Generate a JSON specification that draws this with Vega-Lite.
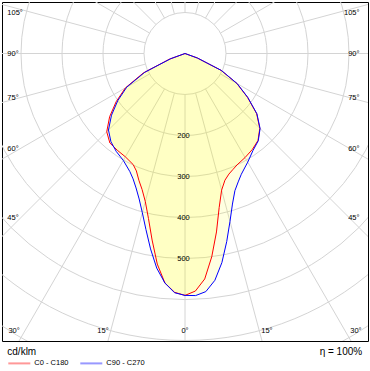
{
  "$schema": "https://vega.github.io/schema/vega-lite/v6.json",
  "width": 366,
  "height": 339,
  "autosize": {"type": "none"},
  "padding": {"left": 2, "top": 2, "right": 2, "bottom": 30},
  "background": "#ffffff",
  "config": {
    "view": {"stroke": "#000000", "strokeWidth": 1},
    "font": "Liberation Sans",
    "text": {"font": "Liberation Sans", "color": "#000000"}
  },
  "datasets": {
    "rings": [{"r": 100}, {"r": 200}, {"r": 300}, {"r": 400}, {"r": 500}, {"r": 600}, {"r": 700}, {"r": 800}, {"r": 900}],
    "spokes": [{"g": 0}, {"g": 15}, {"g": 30}, {"g": 45}, {"g": 60}, {"g": 75}, {"g": 90}, {"g": 105}, {"g": 120}, {"g": 135}, {"g": 150}, {"g": 165}, {"g": 180}, {"g": 195}, {"g": 210}, {"g": 225}, {"g": 240}, {"g": 255}, {"g": 270}, {"g": 285}, {"g": 300}, {"g": 315}, {"g": 330}, {"g": 345}],
    "curves": [
      {"p": "C0 - C180", "g": -75, "I": 0}, {"p": "C0 - C180", "g": -70, "I": 40}, {"p": "C0 - C180", "g": -65, "I": 112}, {"p": "C0 - C180", "g": -60, "I": 168}, {"p": "C0 - C180", "g": -55, "I": 205}, {"p": "C0 - C180", "g": -50, "I": 240}, {"p": "C0 - C180", "g": -45, "I": 270}, {"p": "C0 - C180", "g": -40, "I": 285}, {"p": "C0 - C180", "g": -35, "I": 288}, {"p": "C0 - C180", "g": -30, "I": 291}, {"p": "C0 - C180", "g": -25, "I": 299}, {"p": "C0 - C180", "g": -22.5, "I": 310}, {"p": "C0 - C180", "g": -20, "I": 329}, {"p": "C0 - C180", "g": -17.5, "I": 348}, {"p": "C0 - C180", "g": -15, "I": 374}, {"p": "C0 - C180", "g": -12.5, "I": 412}, {"p": "C0 - C180", "g": -10, "I": 462}, {"p": "C0 - C180", "g": -7.5, "I": 518}, {"p": "C0 - C180", "g": -5, "I": 562}, {"p": "C0 - C180", "g": -2.5, "I": 583},
      {"p": "C0 - C180", "g": 0, "I": 590},
      {"p": "C0 - C180", "g": 2.5, "I": 580}, {"p": "C0 - C180", "g": 5, "I": 552}, {"p": "C0 - C180", "g": 7.5, "I": 500}, {"p": "C0 - C180", "g": 10, "I": 442}, {"p": "C0 - C180", "g": 12.5, "I": 385}, {"p": "C0 - C180", "g": 15, "I": 345}, {"p": "C0 - C180", "g": 17.5, "I": 324}, {"p": "C0 - C180", "g": 20, "I": 313}, {"p": "C0 - C180", "g": 22.5, "I": 306}, {"p": "C0 - C180", "g": 25, "I": 300}, {"p": "C0 - C180", "g": 30, "I": 293}, {"p": "C0 - C180", "g": 35, "I": 286}, {"p": "C0 - C180", "g": 40, "I": 277}, {"p": "C0 - C180", "g": 45, "I": 258}, {"p": "C0 - C180", "g": 50, "I": 228}, {"p": "C0 - C180", "g": 55, "I": 186}, {"p": "C0 - C180", "g": 60, "I": 146}, {"p": "C0 - C180", "g": 65, "I": 97}, {"p": "C0 - C180", "g": 70, "I": 32}, {"p": "C0 - C180", "g": 75, "I": 0},
      {"p": "C90 - C270", "g": -75, "I": 0}, {"p": "C90 - C270", "g": -70, "I": 37}, {"p": "C90 - C270", "g": -65, "I": 108}, {"p": "C90 - C270", "g": -60, "I": 164}, {"p": "C90 - C270", "g": -55, "I": 200}, {"p": "C90 - C270", "g": -50, "I": 234}, {"p": "C90 - C270", "g": -45, "I": 264}, {"p": "C90 - C270", "g": -40, "I": 281}, {"p": "C90 - C270", "g": -35, "I": 292}, {"p": "C90 - C270", "g": -30, "I": 301}, {"p": "C90 - C270", "g": -25, "I": 318}, {"p": "C90 - C270", "g": -22.5, "I": 331}, {"p": "C90 - C270", "g": -20, "I": 349}, {"p": "C90 - C270", "g": -17.5, "I": 372}, {"p": "C90 - C270", "g": -15, "I": 402}, {"p": "C90 - C270", "g": -12.5, "I": 440}, {"p": "C90 - C270", "g": -10, "I": 484}, {"p": "C90 - C270", "g": -7.5, "I": 528}, {"p": "C90 - C270", "g": -5, "I": 562}, {"p": "C90 - C270", "g": -2.5, "I": 584},
      {"p": "C90 - C270", "g": 0, "I": 590},
      {"p": "C90 - C270", "g": 2.5, "I": 591}, {"p": "C90 - C270", "g": 5, "I": 583}, {"p": "C90 - C270", "g": 7.5, "I": 558}, {"p": "C90 - C270", "g": 10, "I": 518}, {"p": "C90 - C270", "g": 12.5, "I": 470}, {"p": "C90 - C270", "g": 15, "I": 424}, {"p": "C90 - C270", "g": 17.5, "I": 385}, {"p": "C90 - C270", "g": 20, "I": 356}, {"p": "C90 - C270", "g": 22.5, "I": 339}, {"p": "C90 - C270", "g": 25, "I": 325}, {"p": "C90 - C270", "g": 30, "I": 306}, {"p": "C90 - C270", "g": 35, "I": 289}, {"p": "C90 - C270", "g": 40, "I": 278}, {"p": "C90 - C270", "g": 45, "I": 259}, {"p": "C90 - C270", "g": 50, "I": 229}, {"p": "C90 - C270", "g": 55, "I": 187}, {"p": "C90 - C270", "g": 60, "I": 147}, {"p": "C90 - C270", "g": 65, "I": 98}, {"p": "C90 - C270", "g": 70, "I": 32}, {"p": "C90 - C270", "g": 75, "I": 0}
    ],
    "intensityLabels": [{"v": 200}, {"v": 300}, {"v": 400}, {"v": 500}],
    "sideLabels": [{"g": 45}, {"g": 60}, {"g": 75}, {"g": 90}, {"g": 105}],
    "bottomLabels": [{"g": -30}, {"g": -15}, {"g": 0}, {"g": 15}, {"g": 30}]
  },
  "encoding": {
    "x": {
      "field": "x", "type": "quantitative",
      "scale": {"domain": [-446.34, 446.34], "nice": false, "zero": false},
      "axis": {"title": "η = 100%", "domain": false, "ticks": false, "labels": false, "grid": false, "titleFontSize": 10, "titleFontWeight": "normal", "titleFont": "Liberation Sans", "titleColor": "#000000", "titleAnchor": "end", "titleAlign": "right", "titleBaseline": "top", "titleX": 359.7, "titleY": 5}
    },
    "y": {
      "field": "y", "type": "quantitative",
      "scale": {"domain": [-701.22, 125.61], "nice": false, "zero": false},
      "axis": null
    }
  },
  "layer": [
    {
      "data": {"name": "rings"},
      "transform": [{"calculate": "0", "as": "x"}, {"calculate": "0", "as": "y"}],
      "mark": {"type": "point", "shape": "circle", "filled": false, "stroke": "#d4d4d4", "strokeWidth": 1, "opacity": 1, "clip": true},
      "encoding": {
        "size": {"field": "r", "type": "quantitative", "scale": {"type": "pow", "exponent": 2, "domain": [0, 1000], "range": [0, 672400]}, "legend": null}
      }
    },
    {
      "data": {"name": "spokes"},
      "transform": [
        {"calculate": "100*sin(datum.g*PI/180)", "as": "x"},
        {"calculate": "-100*cos(datum.g*PI/180)", "as": "y"},
        {"calculate": "1500*sin(datum.g*PI/180)", "as": "x2"},
        {"calculate": "-1500*cos(datum.g*PI/180)", "as": "y2"}
      ],
      "mark": {"type": "rule", "stroke": "#d4d4d4", "strokeWidth": 1, "clip": true},
      "encoding": {"x2": {"field": "x2"}, "y2": {"field": "y2"}}
    },
    {
      "data": {"name": "curves"},
      "transform": [
        {"calculate": "datum.I*sin(datum.g*PI/180)", "as": "x"},
        {"calculate": "-datum.I*cos(datum.g*PI/180)", "as": "y"}
      ],
      "mark": {"type": "line", "fill": "#ffff00", "fillOpacity": 0.12, "strokeWidth": 0, "strokeOpacity": 0, "clip": true},
      "encoding": {"detail": {"field": "p"}, "order": {"field": "g", "type": "quantitative"}}
    },
    {
      "data": {"name": "curves"},
      "transform": [
        {"calculate": "datum.I*sin(datum.g*PI/180)", "as": "x"},
        {"calculate": "-datum.I*cos(datum.g*PI/180)", "as": "y"}
      ],
      "mark": {"type": "line", "strokeWidth": 1, "clip": true},
      "encoding": {
        "order": {"field": "g", "type": "quantitative"},
        "color": {
          "field": "p", "type": "nominal",
          "scale": {"domain": ["C0 - C180", "C90 - C270"], "range": ["#ff0000", "#0000ff"]},
          "legend": {"title": "cd/klm", "orient": "none", "legendX": 5.3, "legendY": 345.4, "direction": "horizontal", "symbolType": "stroke", "symbolSize": 484, "symbolStrokeWidth": 2, "symbolOpacity": 0.4, "labelFontSize": 7.5, "labelFont": "Liberation Sans", "labelColor": "#000000", "labelOffset": 3, "columnPadding": 7, "titleFontSize": 10, "titleFontWeight": "normal", "titleFont": "Liberation Sans", "titleColor": "#000000", "titlePadding": -6, "padding": 0, "rowPadding": 0}
        }
      }
    },
    {
      "data": {"name": "intensityLabels"},
      "transform": [{"calculate": "0", "as": "x"}, {"calculate": "-datum.v", "as": "y"}],
      "mark": {"type": "text", "fontSize": 7.5, "dx": -1.5, "dy": 1},
      "encoding": {"text": {"field": "v", "type": "quantitative"}}
    },
    {
      "data": {"name": "sideLabels"},
      "transform": [
        {"calculate": "-433.4", "as": "x"},
        {"calculate": "-402.4*cos(datum.g*PI/180)/sin(datum.g*PI/180) - (datum.g > 90 ? 10 : 0)", "as": "y"},
        {"calculate": "datum.g + '°'", "as": "t"}
      ],
      "mark": {"type": "text", "fontSize": 7.5, "align": "left"},
      "encoding": {"text": {"field": "t"}}
    },
    {
      "data": {"name": "sideLabels"},
      "transform": [
        {"calculate": "425.6", "as": "x"},
        {"calculate": "-402.4*cos(datum.g*PI/180)/sin(datum.g*PI/180) - (datum.g > 90 ? 10 : 0)", "as": "y"},
        {"calculate": "datum.g + '°'", "as": "t"}
      ],
      "mark": {"type": "text", "fontSize": 7.5, "align": "right"},
      "encoding": {"text": {"field": "t"}}
    },
    {
      "data": {"name": "bottomLabels"},
      "transform": [
        {"calculate": "datum.g == 0 ? 0 : (datum.g < 0 ? -1 : 1) * (701.2*tan(abs(datum.g)*PI/180) + 12)", "as": "x"},
        {"calculate": "-676.8", "as": "y"},
        {"calculate": "abs(datum.g) + '°'", "as": "t"}
      ],
      "mark": {"type": "text", "fontSize": 7.5, "align": "center"},
      "encoding": {"text": {"field": "t"}}
    }
  ]
}
